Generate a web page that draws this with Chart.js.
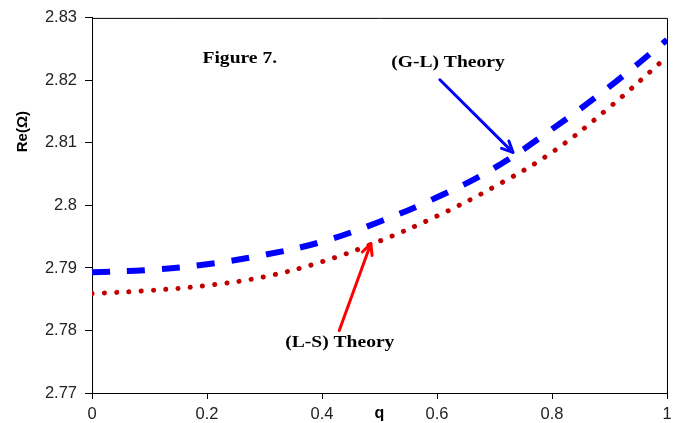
<!DOCTYPE html>
<html>
<head>
<meta charset="utf-8">
<script src="https://cdn.jsdelivr.net/npm/chart.js@4.4.1/dist/chart.umd.min.js"></script>
<style>
  html, body { margin: 0; padding: 0; background: #fff; }
</style>
</head>
<body>
<canvas id="fig7" width="681" height="423"></canvas>
<script>
// q values along the x axis
const qValues = [0, 0.1, 0.2, 0.3, 0.4, 0.5, 0.6, 0.7, 0.8, 0.9, 1.0];
// Re(Omega)
const glTheory = [2.7893, 2.7897, 2.7906, 2.7921, 2.7942, 2.7974, 2.8013, 2.8060, 2.8122, 2.8190, 2.8265];
const lsTheory = [2.7859, 2.7864, 2.7872, 2.7886, 2.7910, 2.7943, 2.7983, 2.8030, 2.8085, 2.8157, 2.8238];
const xTicks = [0, 0.2, 0.4, 0.6, 0.8, 1];
const yTicks = [2.77, 2.78, 2.79, 2.8, 2.81, 2.82, 2.83];

function toPoints(ys) {
    return qValues.map(function (q, i) { return { x: q, y: ys[i] }; });
}

// Hàm vẽ mũi tên
function arrow(ctx, x1, y1, x2, y2, color) {
    const ang = Math.atan2(y2 - y1, x2 - x1);
    ctx.save();
    ctx.strokeStyle = color;
    ctx.lineWidth = 3;
    ctx.lineCap = "round";
    ctx.lineJoin = "round";
    ctx.beginPath();
    ctx.moveTo(x1, y1);
    ctx.lineTo(x2, y2);
    ctx.stroke();
    ctx.beginPath();
    ctx.moveTo(x2 - 12 * Math.cos(ang - 0.45), y2 - 12 * Math.sin(ang - 0.45));
    ctx.lineTo(x2, y2);
    ctx.lineTo(x2 - 12 * Math.cos(ang + 0.45), y2 - 12 * Math.sin(ang + 0.45));
    ctx.stroke();
    ctx.restore();
}

// chữ hơi kéo giãn theo chiều ngang như hình gốc
function note(ctx, text, x, y) {
    ctx.save();
    ctx.translate(x, y);
    ctx.scale(1.15, 1);
    ctx.fillText(text, 0, 0);
    ctx.restore();
}

const frameAndNotes = {
    id: "frameAndNotes",
    afterDraw: function (chart) {
        const ctx = chart.ctx;
        const a = chart.chartArea;
        const xs = chart.scales.x;
        const ys = chart.scales.y;
        ctx.save();
        ctx.strokeStyle = "#000";
        ctx.lineWidth = 1;
        ctx.beginPath();
        ctx.moveTo(a.left, a.top + 0.5);
        ctx.lineTo(a.right + 0.5, a.top + 0.5);
        ctx.lineTo(a.right + 0.5, a.bottom);
        ctx.stroke();

        // axis titles
        ctx.fillStyle = "#000";
        ctx.font = "bold 16px 'Liberation Sans', Arial, sans-serif";
        ctx.textAlign = "center";
        ctx.textBaseline = "middle";
        ctx.fillText("q", xs.getPixelForValue(0.5), 414);
        ctx.save();
        ctx.translate(23, ys.getPixelForValue(2.8118));
        ctx.rotate(-Math.PI / 2);
        ctx.font = "bold 15px 'Liberation Sans', Arial, sans-serif";
        ctx.fillText("Re(\u03A9)", 0, 0);
        ctx.restore();

        // notes
        ctx.font = "bold 17px 'Liberation Serif', 'Times New Roman', serif";
        note(ctx, "Figure 7.", xs.getPixelForValue(0.257), ys.getPixelForValue(2.8235));
        note(ctx, "(G-L) Theory", xs.getPixelForValue(0.619), ys.getPixelForValue(2.8228));
        note(ctx, "(L-S) Theory", xs.getPixelForValue(0.431), ys.getPixelForValue(2.7780));

        arrow(ctx, xs.getPixelForValue(0.605), ys.getPixelForValue(2.8201),
            xs.getPixelForValue(0.732), ys.getPixelForValue(2.8085), "#0000ff");
        arrow(ctx, xs.getPixelForValue(0.43), ys.getPixelForValue(2.7800),
            xs.getPixelForValue(0.485), ys.getPixelForValue(2.7939), "#ff0000");
        ctx.restore();
    }
};

const ctx = document.getElementById("fig7").getContext("2d");
new Chart(ctx, {
    type: "line",
    data: {
        datasets: [
            {
                label: "(G-L) Theory",
                data: toPoints(glTheory),
                borderColor: "#0000ff",
                borderWidth: 6,
                borderDash: [18, 17],
                pointRadius: 0,
                tension: 0.4,
                fill: false
            },
            {
                label: "(L-S) Theory",
                data: toPoints(lsTheory),
                borderColor: "#c00000",
                borderWidth: 5,
                borderCapStyle: "round",
                borderDash: [0.1, 12.2],
                pointRadius: 0,
                tension: 0.4,
                fill: false
            }
        ]
    },
    options: {
        responsive: false,
        animation: false,
        devicePixelRatio: 1,
        layout: { padding: { left: 0, right: 14, top: 15, bottom: 0 } },
        plugins: {
            legend: { display: false },
            tooltip: { enabled: false }
        },
        scales: {
            x: {
                type: "linear",
                min: 0,
                max: 1,
                afterFit: function (s) { s.height = 30; },
                afterBuildTicks: function (s) { s.ticks = xTicks.map(function (v) { return { value: v }; }); },
                ticks: {
                    color: "#222",
                    padding: 6,
                    maxRotation: 0,
                    font: { family: "'Liberation Sans', Arial, sans-serif", size: 16.5 },
                    callback: function (v) { return String(+v.toFixed(2)); }
                },
                grid: { drawOnChartArea: false, drawTicks: true, tickLength: 6, color: "#000" },
                border: { color: "#000", width: 1 }
            },
            y: {
                min: 2.77,
                max: 2.83,
                afterFit: function (s) { s.width = 92; },
                afterBuildTicks: function (s) { s.ticks = yTicks.map(function (v) { return { value: v }; }); },
                ticks: {
                    color: "#222",
                    padding: 8,
                    font: { family: "'Liberation Sans', Arial, sans-serif", size: 16.5 },
                    callback: function (v) { return String(+v.toFixed(2)); }
                },
                grid: { drawOnChartArea: false, drawTicks: true, tickLength: 7, color: "#000" },
                border: { color: "#000", width: 1 }
            }
        }
    },
    plugins: [frameAndNotes]
});
</script>
</body>
</html>
